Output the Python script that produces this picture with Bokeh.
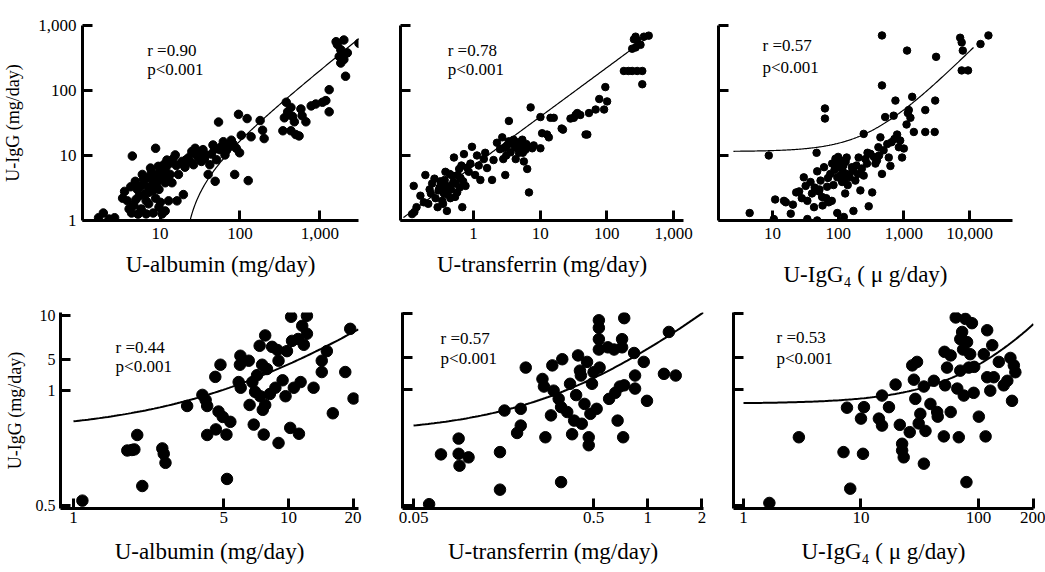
import numpy as np
from bokeh.plotting import figure
from bokeh.layouts import row, column
from bokeh.models import FixedTicker, Label
from bokeh.embed import file_html
from bokeh.resources import INLINE

SERIF = "Liberation Serif"

# ---------------- data ----------------
# Panel 1: U-albumin (mg/day) vs U-IgG (mg/day), all patients
p1_alb = [1.7, 1.95, 2.7, 2.3, 3.4, 3.9, 4.1, 4.7, 4.5, 4.9,
          5.2, 5.5, 5.8, 6.0, 6.3, 6.7, 7.0, 7.2, 7.6, 8.0,
          8.4, 8.8, 8.8, 9.2, 9.7, 9.7, 10.2, 10.6, 11.1, 11.6,
          11.6, 12.2, 6.7, 7.2, 12.8, 13.4, 14.1, 15.5, 17, 18.8,
          19.6, 16.3, 20.5, 22.7, 25, 26.3, 27.5, 30, 33, 34.5,
          37.5, 40, 42, 46, 49, 51, 54, 56, 62, 65,
          71, 78, 86, 90, 96, 99, 104, 123, 127, 138,
          179, 192, 201, 380, 396, 360, 435, 455, 480, 345,
          435, 500, 550, 600, 670, 580, 780, 890, 1080, 1190,
          1310, 1310, 1600, 1660, 1830, 1920, 1750, 2000, 2210, 2100,
          3090, 1830, 2000, 3.6, 4.3, 5.0, 5.6, 6.2, 6.5, 7.4,
          7.8, 8.2, 8.6, 9.0, 9.5, 10.0, 10.8, 11.8, 12.5, 13.0,
          14.5, 16.0, 19.0, 21.0, 24.0, 28.0, 31.0, 36.0, 44, 48,
          58, 68, 75, 82, 4.4, 5.3, 8.2, 10.1]
p1_igg = [1.1, 1.3, 1.1, 1.05, 2.2, 2.0, 1.5, 1.7, 9.8, 4.0,
          3.0, 2.4, 1.5, 5.1, 3.6, 2.0, 4.5, 2.7, 6.4, 3.5,
          4.0, 12.9, 2.2, 5.1, 1.6, 3.0, 6.0, 1.26, 7.2, 3.8,
          1.4, 8.5, 1.26, 1.8, 2.0, 5.1, 3.8, 10.2, 5.1, 8.1,
          2.5, 2.0, 6.6, 9.2, 11.5, 7.2, 12.9, 9.2, 8.1, 12.3,
          10.2, 5.1, 7.2, 14.5, 4.0, 8.6, 32.7, 12.3, 16.3, 10.2,
          14.5, 17.2, 5.1, 12.9, 43, 11, 20.5, 37, 4.1, 19.4,
          34.5, 24.5, 18.2, 66, 47, 38, 55, 40, 33, 24,
          24, 21, 20, 41, 33, 52, 58, 62, 66, 70,
          47, 103, 565, 510, 425, 360, 335, 300, 380, 166,
          534, 265, 600, 2.8, 3.3, 2.1, 3.3, 4.3, 2.6, 3.2,
          5.5, 2.9, 4.7, 3.6, 6.8, 4.4, 5.5, 6.4, 4.5, 7.5,
          8.8, 7.0, 7.5, 8.5, 8.0, 10.5, 11.5, 9.0, 10.5, 12.5,
          13.5, 12.0, 14.0, 15.0, 1.3, 1.25, 1.3, 1.9]

# Panel 2: U-transferrin (mg/day) vs U-IgG (mg/day)
p2_tf = [0.127, 0.13, 0.16, 0.18, 0.19, 0.21, 0.23, 0.24, 0.27, 0.29,
         0.31, 0.32, 0.34, 0.36, 0.38, 0.40, 0.42, 0.45, 0.48, 0.51,
         0.54, 0.57, 0.61, 0.64, 0.68, 0.72, 0.76, 0.85, 0.95, 1.06,
         1.13, 1.27, 1.43, 1.6, 1.9, 2.0, 2.25, 2.5, 2.7, 2.8,
         3.0, 3.2, 3.4, 3.4, 3.6, 3.8, 4.0, 4.3, 4.5, 4.8,
         5.1, 5.4, 5.7, 6.0, 6.4, 6.8, 7.2, 7.6, 8.0, 10.1,
         10.1, 10.7, 12.7, 13.5, 14.3, 16, 21, 22, 28.5, 32,
         34, 36, 40, 48, 51, 54, 68, 77, 91, 95,
         101, 255, 270, 285, 320, 240, 270, 360, 425, 240,
         285, 340, 180, 210, 340, 0.22, 0.26, 0.30, 0.33, 0.35,
         0.37, 0.39, 0.41, 0.44, 0.46, 0.50, 0.53, 0.58, 0.62, 0.66,
         0.70, 0.80, 0.90, 1.2, 1.5, 0.12, 0.14, 2.9, 3.1, 4.2,
         4.6, 5.5, 6.2]
p2_igg = [3.4, 1.35, 2.4, 1.9, 5.0, 1.8, 2.6, 3.7, 2.2, 1.6,
          3.2, 4.0, 2.0, 2.6, 5.6, 1.4, 3.4, 2.2, 4.9, 9.3,
          3.7, 2.7, 6.2, 4.5, 1.6, 10.5, 3.4, 5.6, 13.6, 5.0,
          10, 4.2, 8.8, 6.4, 4.2, 8.5, 15.7, 12.5, 19, 8.8,
          5.0, 14.3, 16.5, 34, 11.2, 15.7, 17.5, 8.8, 12.9, 11,
          14.3, 17.5, 8.1, 12.2, 6.2, 2.7, 55, 12.9, 14.3, 12.9,
          39, 22, 21, 19, 38, 38, 26, 25, 37, 38,
          42, 45, 42, 21, 21, 45, 51, 74, 51, 113,
          68, 615, 675, 590, 505, 440, 460, 675, 700, 200,
          200, 200, 200, 200, 125, 3.0, 4.4, 2.9, 3.5, 1.8,
          4.2, 3.0, 2.5, 5.2, 3.0, 3.9, 2.3, 5.0, 3.2, 7.0,
          4.0, 6.5, 7.5, 7.0, 11, 1.25, 1.6, 13, 10, 13.5,
          16, 11, 15]

# Panel 3: U-IgG4 (ug/day) vs U-IgG (mg/day)
p3_igg4 = [4.5, 8.8, 10.5, 11, 15, 16, 19, 20.5, 23, 25.5,
           30, 32, 34, 34, 38, 40, 43, 47, 48, 51,
           48, 54, 57, 61, 63, 63, 68, 72, 76, 81,
           85, 91, 97, 97, 103, 109, 115, 118, 122, 128,
           135, 143, 162, 171, 183, 205, 218, 245, 245, 275,
           292, 310, 330, 370, 390, 410, 440, 465, 465, 465,
           492, 520, 590, 625, 700, 745, 790, 840, 940, 1000,
           1120, 1190, 1260, 1340, 1420, 2120, 2120, 2950, 3000, 3100,
           7200, 7600, 7900, 7600, 9500, 14700, 19400, 70, 88, 95,
           100, 110, 120, 125, 130, 140, 150, 170, 190, 200,
           230, 260, 280, 350, 420, 560, 650, 720, 880, 1100,
           1150, 52, 58, 66, 80, 44, 28]
p3_igg = [1.3, 10, 1.05, 2.1, 2.0, 1.9, 1.27, 1.75, 2.7, 2.8,
          4.6, 3.4, 2.0, 1.05, 3.9, 2.6, 1.6, 11, 5.7, 2.8,
          1.0, 4.1, 2.3, 6.6, 53, 37, 3.3, 1.9, 5.2, 7.5,
          3.5, 8.9, 4.6, 1.3, 6.6, 8.4, 3.9, 5.7, 1.13, 2.6,
          9.3, 5.2, 6.6, 1.4, 4.1, 9.3, 2.9, 21.5, 4.9, 7.5,
          1.65, 10.6, 2.7, 7.5, 8.4, 13.4, 19, 120, 705, 5.2,
          12, 39, 9.3, 6.9, 41, 70, 21, 13.4, 9.3, 12.8,
          412, 50, 38, 80, 23, 50, 23, 23, 70, 330,
          650, 550, 412, 204, 204, 520, 705, 4.5, 6.0, 7.2,
          9.5, 5.0, 7.0, 4.3, 8.0, 3.5, 4.6, 5.8, 7.0, 5.2,
          6.3, 8.8, 11, 9.5, 10, 15, 16, 18, 17, 30,
          45, 3.0, 1.7, 2.2, 2.0, 3.2, 2.2]

# Panel 4: U-albumin (mg/day) vs U-IgG (mg/day), subgroup
p4_alb = [1.1, 1.78, 1.87, 1.92, 1.98, 2.09, 2.59, 2.63, 2.68, 3.38,
          3.98, 4.12, 4.19, 4.19, 4.57, 4.6, 4.73, 4.83, 4.95, 5.15,
          5.18, 5.37, 5.87, 5.95, 5.98, 6.0, 6.54, 6.6, 6.8, 6.9,
          7.0, 7.15, 7.35, 7.4, 7.55, 7.6, 7.68, 7.8, 7.8, 7.95,
          8.2, 8.4, 8.7, 8.9, 9.0, 9.0, 9.4, 9.7, 9.85, 10.2,
          10.3, 10.4, 10.6, 11.1, 11.2, 11.4, 11.6, 11.8, 12.2, 12.2,
          13.1, 14.3, 14.3, 15.1, 16.1, 18.4, 19.4, 20.1]
p4_igg = [0.54, 1.19, 1.2, 1.21, 1.52, 0.68, 1.23, 1.13, 0.98, 2.4,
          2.86, 2.64, 2.4, 1.52, 3.8, 1.66, 2.2, 4.6, 2.02, 1.53,
          0.76, 1.87, 3.5, 4.6, 5.3, 3.2, 4.9, 2.44, 3.5, 1.79,
          3.0, 3.9, 6.2, 2.8, 4.6, 2.26, 1.53, 7.3, 2.44, 4.3,
          2.9, 6.1, 3.2, 5.8, 4.9, 1.34, 3.6, 2.8, 5.7, 1.7,
          9.8, 6.7, 3.2, 6.9, 1.55, 3.5, 8.5, 6.3, 9.95, 7.5,
          3.2, 4.9, 4.1, 5.7, 2.14, 4.1, 8.1, 2.7]

# Panel 5: U-transferrin (mg/day) vs U-IgG (mg/day), subgroup
p5_tf = [0.061, 0.071, 0.089, 0.089, 0.09, 0.101, 0.151, 0.151, 0.16, 0.188,
         0.197, 0.197, 0.21, 0.26, 0.265, 0.27, 0.29, 0.295, 0.30, 0.32,
         0.33, 0.33, 0.335, 0.357, 0.37, 0.38, 0.39, 0.40, 0.41, 0.42,
         0.425, 0.43, 0.445, 0.46, 0.47, 0.47, 0.48, 0.49, 0.50, 0.52,
         0.535, 0.535, 0.535, 0.535, 0.54, 0.60, 0.61, 0.65, 0.66, 0.68,
         0.70, 0.72, 0.72, 0.73, 0.74, 0.74, 0.84, 0.85, 0.85, 0.95,
         0.99, 1.23, 1.31, 1.43]
p5_igg = [0.51, 1.11, 1.42, 1.12, 0.93, 1.06, 1.15, 0.64, 2.2, 1.55,
          2.26, 1.74, 4.3, 3.6, 3.2, 1.45, 2.04, 4.45, 3.0, 2.64,
          2.32, 0.72, 4.9, 2.15, 3.34, 1.52, 1.88, 2.8, 5.2, 4.1,
          3.8, 1.79, 2.44, 4.7, 1.45, 1.28, 2.09, 3.34, 4.0, 2.26,
          9.0, 8.0, 6.7, 5.7, 4.3, 5.9, 2.64, 5.7, 2.9, 1.88,
          3.2, 6.7, 5.9, 1.45, 9.3, 3.26, 5.4, 3.8, 3.1, 4.7,
          2.56, 3.9, 7.5, 3.8]

# Panel 6: U-IgG4 (ug/day) vs U-IgG (mg/day), subgroup
p6_igg4 = [1.66, 2.96, 7.1, 8.1, 7.6, 10, 10.4, 10.6, 14.2, 15.1,
           15.1, 17.3, 19.7, 21.4, 22.4, 22.4, 23.1, 26, 27.3, 30,
           28.2, 29, 31, 32, 34.3, 35.4, 34.3, 39, 41.7, 44.5,
           45, 50.7, 51.4, 52, 54, 58, 58, 64, 66, 68,
           70, 70, 72.6, 74, 75, 77.4, 79, 80, 82.7, 85,
           88, 91, 92, 100.7, 115, 111, 118.6, 118.6, 126, 131,
           135, 149, 164, 176, 187, 193, 200, 206]
p6_igg = [0.52, 1.45, 1.15, 0.65, 2.3, 1.94, 1.12, 2.32, 1.94, 1.74,
          2.78, 2.32, 3.3, 1.76, 1.31, 1.18, 1.06, 1.57, 4.45, 4.7,
          3.56, 2.64, 1.8, 2.09, 0.96, 1.6, 3.2, 2.44, 3.5, 2.15,
          2.0, 1.47, 5.5, 3.26, 4.3, 2.15, 5.2, 9.4, 3.1, 1.45,
          6.7, 4.1, 7.5, 5.7, 2.78, 9.2, 0.72, 6.4, 4.3, 5.3,
          8.6, 2.9, 4.35, 2.0, 1.47, 5.3, 7.7, 3.7, 3.0, 6.1,
          3.7, 4.7, 3.26, 3.5, 5.0, 2.56, 4.45, 4.0]

# regression lines (intercept, slope) as drawn in the figure
fit1 = (-3.9, 0.206)      # linear, panel 1
fit2 = (0.839, 0.757)     # log-log, panel 2
fit3 = (11.5, 0.039)      # linear, panel 3
fit4 = (1.58, 0.305)      # linear, panel 4
fit5 = (1.53, 4.24)       # linear, panel 5
fit6 = (2.45, 0.0205)     # linear, panel 6

stats = [("r =0.90", "p<0.001"), ("r =0.78", "p<0.001"), ("r =0.57", "p<0.001"),
         ("r =0.44", "p<0.001"), ("r =0.57", "p<0.001"), ("r =0.53", "p<0.001")]

top_y_ticks = [1, 10, 100, 1000]
top_y_labels = ["1", "10", "100", "1,000"]
bot_y_ticks = [0.5, 3.05, 5, 10]
bot_y_labels = ["0.5", "1", "5", "10"]


def style_axis(ax, ticks, labels, size, standoff):
    ax.ticker = FixedTicker(ticks=ticks, minor_ticks=[])
    ax.major_label_overrides = {t: l for t, l in zip(ticks, labels)}
    ax.axis_line_width = 3
    ax.axis_line_color = "black"
    ax.major_tick_in = 10
    ax.major_tick_out = 0
    ax.major_tick_line_width = 3
    ax.major_tick_line_color = "black"
    ax.minor_tick_line_color = None
    ax.major_label_text_font = SERIF
    ax.major_label_text_font_size = size
    ax.major_label_text_color = "black"
    ax.major_label_standoff = standoff
    ax.axis_label_text_font = SERIF
    ax.axis_label_text_font_style = "normal"
    ax.axis_label_text_color = "black"


def panel(w, h, borders, xr, yr, xt, xl, yt, yl, xtitle, xts, ytitle=None, yts=4,
          xls=7, yls=6, ysize="17px"):
    bl, br, bt, bb = borders
    p = figure(width=w, height=h, x_axis_type="log", y_axis_type="log",
               x_range=xr, y_range=yr, output_backend="svg", toolbar_location=None,
               min_border_left=bl, min_border_right=br, min_border_top=bt,
               min_border_bottom=bb)
    p.grid.visible = False
    p.outline_line_color = None
    style_axis(p.xaxis[0], xt, xl, "17px", xls)
    style_axis(p.yaxis[0], yt, yl, ysize, yls)
    p.xaxis[0].axis_label = xtitle
    p.xaxis[0].axis_label_text_font_size = "23px"
    p.xaxis[0].axis_label_standoff = xts
    if ytitle:
        p.yaxis[0].axis_label = ytitle
        p.yaxis[0].axis_label_text_font_size = "18px"
        p.yaxis[0].axis_label_standoff = yts
    return p


def annotate(p, x, y1, y2, texts):
    for y, t in ((y1, texts[0]), (y2, texts[1])):
        p.add_layout(Label(x=x, y=y, text=t, text_font=SERIF, text_font_size="17px",
                           text_baseline="middle", text_align="left", text_color="black"))


# ---------------- top row ----------------
p1 = panel(385, 290, (80, 27, 22, 70), (1.07, 3050), (0.997, 1003),
           [10, 100, 1000], ["10", "100", "1,000"], top_y_ticks, top_y_labels,
           "U-albumin (mg/day)", 10, ytitle="U-IgG (mg/day)", yts=12)
p1.scatter(p1_alb, p1_igg, size=8.5, color="black")
xs = np.geomspace(15, 3100, 300)
p1.line(xs, np.maximum(fit1[0] + fit1[1] * xs, 1.0), line_color="black", line_width=1.2)
annotate(p1, 6.9, 418, 208, stats[0])

p2 = panel(320, 290, (15, 22, 22, 70), (0.0805, 1412), (0.997, 1003),
           [1, 10, 100, 1000], ["1", "10", "100", "1,000"], top_y_ticks, [""] * 4,
           "U-transferrin (mg/day)", 10)
p2.scatter(p2_tf, p2_igg, size=7.5, color="black")
xs = np.geomspace(0.089, 393, 200)
p2.line(xs, 10 ** (fit2[0] + fit2[1] * np.log10(xs)), line_color="black", line_width=1.2)
annotate(p2, 0.41, 418, 208, stats[1])

p3 = panel(340, 290, (13, 33, 25, 70), (1.51, 45100), (0.997, 1003),
           [10, 100, 1000, 10000], ["10", "100", "1,000", "10,000"], top_y_ticks, [""] * 4,
           "U-IgG\u2084 ( \u03bc g/day)", 20)
p3.scatter(p3_igg4, p3_igg, size=7.5, color="black")
xs = np.geomspace(2.55, 11500, 300)
p3.line(xs, fit3[0] + fit3[1] * xs, line_color="black", line_width=1.2)
annotate(p3, 7.05, 492, 226, stats[2])

# ---------------- bottom row ----------------
p4 = panel(385, 282, (60, 27, 20, 64), (0.87, 21.2), (0.477, 10.48),
           [1, 5, 10, 20], ["1", "5", "10", "20"], bot_y_ticks, bot_y_labels,
           "U-albumin (mg/day)", 13, ytitle="U-IgG (mg/day)", yts=8, xls=3, yls=5,
           ysize="16px")
p4.scatter(p4_alb, p4_igg, size=11.5, color="black")
xs = np.geomspace(1.0, 21.2, 100)
p4.line(xs, fit4[0] + fit4[1] * xs, line_color="black", line_width=2)
annotate(p4, 1.57, 6.07, 4.45, stats[3])

p5 = panel(335, 282, (17, 17, 22, 64), (0.0434, 2.04), (0.477, 10.16),
           [0.05, 0.5, 1, 2], ["0.05", "0.5", "1", "2"], bot_y_ticks, [""] * 4,
           "U-transferrin (mg/day)", 13, xls=3)
p5.scatter(p5_tf, p5_igg, size=11.5, color="black")
xs = np.geomspace(0.05, 2.04, 100)
p5.line(xs, fit5[0] + fit5[1] * xs, line_color="black", line_width=2)
annotate(p5, 0.0706, 6.77, 4.95, stats[4])

p6 = panel(325, 282, (13, 12, 22, 64), (0.822, 294), (0.477, 10.16),
           [1, 10, 100, 293], ["1", "10", "100", "200"], bot_y_ticks, [""] * 4,
           "U-IgG\u2084 ( \u03bc g/day)", 13, xls=3)
p6.scatter(p6_igg4, p6_igg, size=11.5, color="black")
xs = np.geomspace(1.0, 294, 150)
p6.line(xs, fit6[0] + fit6[1] * xs, line_color="black", line_width=2)
annotate(p6, 1.91, 6.9, 4.95, stats[5])

layout = column(row(p1, p2, p3, spacing=0), row(p4, p5, p6, spacing=0), spacing=0)

open("out.html", "w").write(file_html(layout, INLINE))
